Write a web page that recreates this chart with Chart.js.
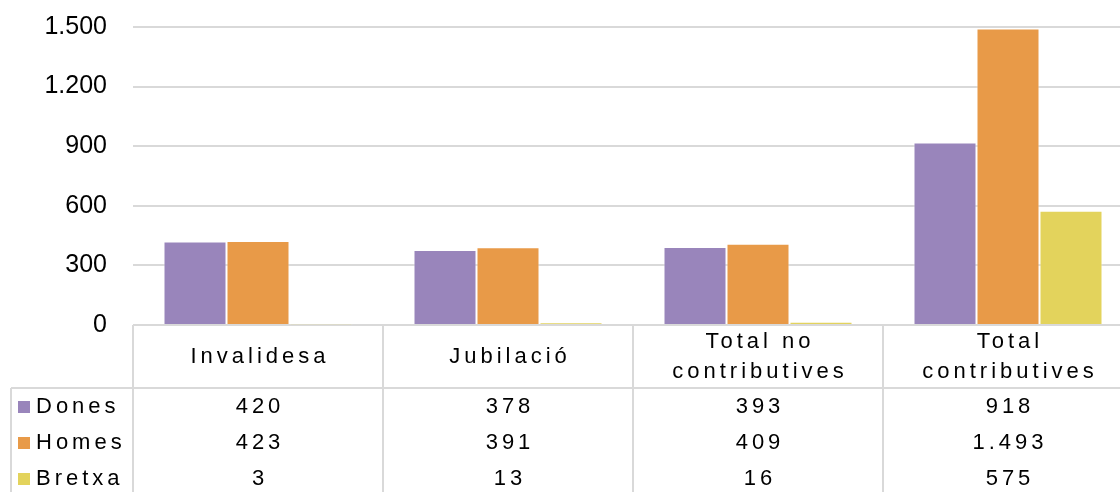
<!DOCTYPE html>
<html>
<head>
<meta charset="utf-8">
<script src="https://cdn.jsdelivr.net/npm/chart.js@4/dist/chart.umd.min.js"></script>
<style>
  html, body { margin: 0; padding: 0; background: #fff; overflow: hidden; }
  #wrap { width: 1120px; height: 492px; overflow: hidden; }
</style>
</head>
<body>
<div id="wrap"><canvas id="chart" width="1140" height="492"></canvas></div>
<script>
var categories = [["Invalidesa"], ["Jubilació"], ["Total no", "contributives"], ["Total", "contributives"]];
var series_names = ["Dones", "Homes", "Bretxa"];
var dones = [420, 378, 393, 918];
var homes = [423, 391, 409, 1493];
var bretxa = [3, 13, 16, 575];
var colors = ["#9985bb", "#e89a48", "#e3d35c"];

var grid_color = "#d9d9d9";
var font_family = "'Liberation Sans', Arial, sans-serif";

function fmt(v) {
  return v.toString().replace(/\B(?=(\d{3})+(?!\d))/g, ".");
}

// draws the data table under the plot, same way Excel does it
var table_plugin = {
  id: "data_table",
  afterDraw(chart) {
    var ctx = chart.ctx;
    var area = chart.chartArea;
    var x_scale = chart.scales.x;
    var n = categories.length;
    var col_w = (area.right - area.left) / n;
    var head_bottom = area.bottom + 63;
    var row_h = 36;
    var table_left = 11;
    var bottom = chart.height;

    ctx.save();
    ctx.strokeStyle = grid_color;
    ctx.lineWidth = 2;
    ctx.beginPath();
    ctx.moveTo(table_left, head_bottom);
    ctx.lineTo(area.right, head_bottom);
    ctx.moveTo(table_left, head_bottom);
    ctx.lineTo(table_left, bottom);
    for (var i = 0; i <= n; i++) {
      var x = area.left + i * col_w;
      ctx.moveTo(x, area.bottom);
      ctx.lineTo(x, bottom);
    }
    ctx.stroke();

    ctx.fillStyle = "#000";
    ctx.font = "22px " + font_family;
    ctx.letterSpacing = "4px";
    ctx.textAlign = "center";
    ctx.textBaseline = "middle";

    // category headers
    categories.forEach(function (lines, i) {
      var cx = x_scale.getPixelForValue(i) + 2;
      if (lines.length === 1) {
        ctx.fillText(lines[0], cx, area.bottom + 32);
      } else {
        ctx.fillText(lines[0], cx, area.bottom + 17);
        ctx.fillText(lines[1], cx, area.bottom + 47);
      }
    });

    // rows
    chart.data.datasets.forEach(function (ds, r) {
      var cy = head_bottom + 19 + r * row_h;
      ctx.fillStyle = colors[r];
      ctx.fillRect(18, cy - 6, 12, 12);
      ctx.fillStyle = "#000";
      ctx.textAlign = "left";
      ctx.fillText(series_names[r], 36, cy);
      ctx.textAlign = "center";
      ds.data.forEach(function (v, i) {
        ctx.fillText(fmt(v), x_scale.getPixelForValue(i) + 2, cy);
      });
    });
    ctx.restore();
  }
};

var canvas = document.getElementById("chart");

var config = {
  type: "bar",
  data: {
    labels: categories.map(function (c) { return c.join(" "); }),
    datasets: [
      { label: series_names[0], data: dones, backgroundColor: colors[0] },
      { label: series_names[1], data: homes, backgroundColor: colors[1] },
      { label: series_names[2], data: bretxa, backgroundColor: colors[2] }
    ].map(function (ds) {
      ds.borderColor = "rgba(255,255,255,0.5)";
      ds.borderWidth = 1;
      ds.barPercentage = 1;
      ds.categoryPercentage = 0.756;
      return ds;
    })
  },
  options: {
    responsive: false,
    animation: false,
    layout: { padding: { top: 27, bottom: 167, right: 7, left: 0 } },
    plugins: {
      legend: { display: false },
      tooltip: { enabled: false }
    },
    scales: {
      x: { display: false },
      y: {
        min: 0,
        max: 1500,
        afterFit(scale) {
          // fixed axis width, and ticks.padding must not push the plot down
          scale.width = 133;
          scale.paddingTop = 0;
          scale.paddingBottom = 0;
        },
        border: { display: false },
        grid: { color: grid_color, lineWidth: 2, drawTicks: false },
        ticks: {
          stepSize: 300,
          padding: 26,
          color: "#000",
          font: { family: font_family, size: 25 },
          callback: function (v) { return fmt(v); }
        }
      }
    }
  },
  plugins: [table_plugin]
};

var chart = new Chart(canvas, config);
</script>
</body>
</html>
